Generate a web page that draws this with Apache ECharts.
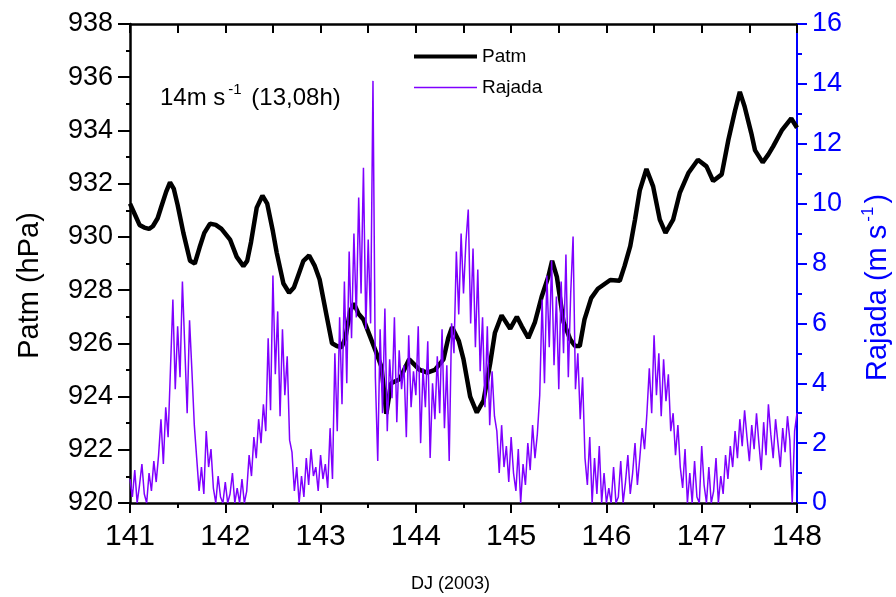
<!DOCTYPE html>
<html>
<head>
<meta charset="utf-8">
<script src="https://cdn.jsdelivr.net/npm/echarts@6/dist/echarts.min.js"></script>
<style>
  html, body { margin: 0; padding: 0; background: #fff; }
  #chart { width: 896px; height: 597px; }
</style>
</head>
<body>
<div id="chart"></div>
<script>
// ---- data ----
// Patm (hPa), black thick line
const patmDays = [
  141.00, 141.05, 141.10, 141.15, 141.20, 141.24, 141.29, 141.33, 141.38, 141.42,
  141.46, 141.50, 141.56, 141.63, 141.68, 141.73, 141.78, 141.84, 141.90, 141.96,
  142.05, 142.12, 142.19, 142.23, 142.27, 142.33, 142.39, 142.44, 142.50, 142.54,
  142.61, 142.67, 142.72, 142.77, 142.82, 142.88, 142.94, 142.99, 143.06, 143.12,
  143.17, 143.22, 143.26, 143.31, 143.35, 143.40, 143.45, 143.52, 143.59, 143.64,
  143.69, 143.74, 143.83, 143.93, 144.04, 144.12, 144.20, 144.29, 144.34, 144.38,
  144.45, 144.50, 144.57, 144.64, 144.71, 144.78, 144.83, 144.90, 144.99, 145.06,
  145.11, 145.18, 145.25, 145.32, 145.39, 145.43, 145.48, 145.55, 145.62, 145.67,
  145.72, 145.77, 145.84, 145.91, 146.04, 146.14, 146.19, 146.25, 146.30, 146.35,
  146.42, 146.49, 146.56, 146.62, 146.70, 146.77, 146.86, 146.96, 147.05, 147.12,
  147.21, 147.28, 147.35, 147.40, 147.45, 147.52, 147.56, 147.64, 147.70, 147.75,
  147.84, 147.94, 148.00
];
const patmValues = [
  931.25, 930.85, 930.45, 930.35, 930.3, 930.4, 930.7, 931.15, 931.7, 932.05,
  931.8, 931.2, 930.15, 929.1, 929.0, 929.6, 930.15, 930.5, 930.45, 930.3,
  929.9, 929.25, 928.9, 929.1, 929.8, 931.1, 931.55, 931.25, 930.2, 929.4,
  928.25, 927.9, 928.1, 928.6, 929.1, 929.3, 928.9, 928.4, 927.1, 926.0,
  925.9, 925.85, 926.2, 927.2, 927.5, 927.1, 926.9, 926.25, 925.6, 925.1,
  923.35, 924.5, 924.65, 925.4, 925.0, 924.9, 925.0, 925.4, 926.2, 926.6,
  926.1, 925.4, 924.0, 923.4, 923.85, 925.25, 926.4, 927.05, 926.55, 927.0,
  926.65, 926.2, 926.8, 927.75, 928.5, 929.1, 928.5, 926.8, 926.15, 925.9,
  925.9, 926.9, 927.7, 928.05, 928.38, 928.35, 928.9, 929.65, 930.65, 931.75,
  932.55, 931.9, 930.65, 930.15, 930.65, 931.65, 932.4, 932.9, 932.65, 932.1,
  932.35, 933.65, 934.75, 935.45, 934.9, 933.9, 933.25, 932.8, 933.1, 933.4,
  934.0, 934.45, 934.1
];

// Rajada (m s-1), purple thin line, one reading every 0.025 day from DJ 141
const rajadaStart = 141;
const rajadaStep = 0.025;
const rajadaValues = [
  // 141
  0.8, 0.2, 1.1, 0.0, 0.6, 1.3, 0.3, 0.0, 1.0, 0.4, 1.4, 0.7,
  1.6, 2.8, 1.3, 3.2, 2.2,
  4.5, 6.8, 3.8, 5.9, 4.2, 7.4, 5.2, 3.0, 6.1, 4.4, 2.6,
  1.5, 0.4, 1.2, 0.3, 2.4, 1.2, 1.8, 0.5, 0.0, 0.9, 0.2, 0.0,
  // 142
  0.7, 0.0, 0.3, 1.0, 0.0, 0.5, 0.0, 0.8, 0.0, 0.4,
  1.6, 0.9, 2.2, 1.5, 2.8, 2.0, 3.3, 2.4,
  5.5, 3.1, 7.6, 4.3, 6.4, 2.9, 5.8, 3.6, 4.9, 2.1,
  1.7, 0.4, 1.2, 0.0, 0.9, 0.2, 1.5, 0.6, 1.8, 0.9, 1.2, 0.4,
  // 143
  1.6, 0.8, 1.3, 0.5,
  2.5, 0.8, 5.0, 2.4, 6.2, 3.3, 7.4, 4.0, 8.4,
  5.5, 9.0, 6.2, 10.2, 7.0, 11.2, 5.8, 8.8, 6.0, 14.1, 4.2, 1.4,
  5.8, 3.0, 6.5, 2.4, 4.8, 3.5, 6.2, 2.7, 5.1, 3.8, 4.6, 2.2, 5.6, 3.2, 4.4,
  // 144
  3.6, 5.9, 2.0, 4.5, 3.2, 5.4, 1.5, 4.0, 2.8, 4.9,
  3.0, 5.8, 2.5, 4.6, 1.4, 6.0,
  5.0, 8.4, 6.3, 9.0, 7.0, 8.7, 9.8, 6.0, 8.5, 5.2, 7.8, 4.4, 6.2,
  3.2, 5.9, 2.6, 4.4, 2.9, 2.4, 1.0, 2.6, 1.2, 1.9, 0.7,
  // 145
  2.2, 1.0, 0.4, 1.8, 0.0, 1.3, 0.6, 2.0, 1.1, 2.6, 1.5, 2.3,
  3.6, 6.8, 4.0, 7.6, 5.2, 8.1, 4.6, 6.9, 3.8, 7.4, 5.0, 8.3, 4.2, 7.0, 8.9, 3.8, 5.0,
  2.8, 4.2, 1.5, 0.6, 2.2, 0.0, 1.5, 0.3, 1.9, 0.0, 1.0,
  // 146
  0.0, 0.5, 0.0, 1.2, 0.0, 0.2, 1.4, 0.0, 0.7, 1.6, 0.3, 1.0, 2.0, 0.6,
  1.5, 2.5, 1.8, 3.0,
  4.5, 3.0, 5.6, 3.6, 5.0, 2.9, 4.8, 3.4, 4.3, 2.4,
  3.0, 1.6, 2.6, 1.2,
  0.5, 1.8, 0.0, 1.0, 0.0, 1.4, 0.2, 0.0,
  // 147
  1.9, 0.6, 0.0, 1.2, 0.0, 0.4, 1.5, 0.0, 0.9, 0.3, 1.6,
  0.8, 1.9, 1.2, 2.4,
  1.5, 2.8, 1.9, 3.1, 2.2, 1.4, 2.6, 1.8, 3.0, 2.0, 1.1, 2.7, 1.6, 3.3, 2.3,
  1.5, 2.8, 2.0, 1.2, 2.5, 1.7, 2.9, 2.1, 0.0, 2.4,
  // 148
  3.0
];

// axis ranges / ticks
const dayMin = 141, dayMax = 148;
const patmMin = 920, patmMax = 938;
const rajadaMin = 0, rajadaMax = 16;

// ---- build series data ----
const patmData = patmDays.map((d, i) => [d, patmValues[i]]);
const rajadaData = rajadaValues.map((v, i) => [+(rajadaStart + i * rajadaStep).toFixed(3), v]);

const FONT = "'Liberation Sans', Arial, sans-serif";
const BLUE = "#0000ff";
const PURPLE = "#7f00ff";

let chart = echarts.init(document.getElementById("chart"), null, { renderer: "canvas" });

chart.setOption({
  animation: false,
  backgroundColor: "#fff",
  textStyle: { fontFamily: FONT },
  grid: { left: 130, right: 99, top: 24, bottom: 94, outerBoundsMode: "none", containLabel: false },
  legend: {
    orient: "vertical",
    left: 414,
    top: 47,
    padding: 0,
    itemWidth: 63,
    itemHeight: 14,
    itemGap: 12,
    textStyle: { fontFamily: FONT, fontSize: 19, color: "#000" },
    data: [
      { name: "Patm", icon: "path://M0,0 H63 V4 H0 Z", symbolKeepAspect: true },
      { name: "Rajada", icon: "path://M0,0 H63 V1.6 H0 Z", symbolKeepAspect: true }
    ]
  },
  graphic: [{
    type: "text",
    left: 160,
    top: 82,
    style: {
      text: "{a|14m s}{s|-1}{a| (13,08h)}",
      rich: {
        a: { fontFamily: FONT, fontSize: 24, fill: "#000", verticalAlign: "bottom" },
        s: { fontFamily: FONT, fontSize: 15, fill: "#000", verticalAlign: "top", padding: [0, 3, 13, 3] }
      }
    }
  }],
  xAxis: [{
    type: "value",
    position: "bottom",
    min: dayMin, max: dayMax, interval: 1,
    name: "DJ (2003)",
    nameLocation: "middle",
    nameGap: 72,
    nameTextStyle: { fontFamily: FONT, fontSize: 18, color: "#000", padding: [0, 26, 0, 0] },
    axisLine: { show: true, onZero: false, lineStyle: { color: "#000", width: 2.5 } },
    axisTick: { show: true, length: 10, lineStyle: { color: "#000", width: 2 } },
    minorTick: { show: true, splitNumber: 2, length: 5, lineStyle: { color: "#000", width: 2 } },
    axisLabel: { fontFamily: FONT, fontSize: 30, color: "#000", margin: 19 },
    splitLine: { show: false }
  }, {
    type: "value",
    position: "top",
    min: dayMin, max: dayMax, interval: 0.5,
    axisLine: { show: true, onZero: false, lineStyle: { color: "#000", width: 2.5 } },
    axisTick: { show: true, inside: true, length: 9, lineStyle: { color: "#000", width: 2 } },
    axisLabel: { show: false },
    splitLine: { show: false }
  }],
  yAxis: [{
    type: "value",
    position: "left",
    min: patmMin, max: patmMax, interval: 2,
    name: "Patm (hPa)",
    nameLocation: "middle",
    nameGap: 86,
    nameRotate: 90,
    nameTextStyle: { fontFamily: FONT, fontSize: 29, color: "#000", padding: [0, 44, 0, 0] },
    axisLine: { show: true, onZero: false, lineStyle: { color: "#000", width: 2.5 } },
    axisTick: { show: true, length: 12, lineStyle: { color: "#000", width: 2 } },
    minorTick: { show: true, splitNumber: 2, length: 4, lineStyle: { color: "#000", width: 2 } },
    axisLabel: { fontFamily: FONT, fontSize: 27, color: "#000", margin: 17 },
    splitLine: { show: false }
  }, {
    type: "value",
    position: "right",
    min: rajadaMin, max: rajadaMax, interval: 2,
    name: "{a|Rajada (m s}{s|-1}{a|)}",
    nameLocation: "middle",
    nameGap: 63,
    nameRotate: 90,
    nameTextStyle: {
      padding: [0, 48, 0, 0],
      rich: {
        a: { fontFamily: FONT, fontSize: 29, color: BLUE, verticalAlign: "bottom" },
        s: { fontFamily: FONT, fontSize: 17, color: BLUE, verticalAlign: "top", padding: [0, 3, 15, 3] }
      }
    },
    axisLine: { show: true, onZero: false, lineStyle: { color: BLUE, width: 2 } },
    axisTick: { show: true, length: 10, lineStyle: { color: BLUE, width: 2 } },
    minorTick: { show: true, splitNumber: 2, length: 5, lineStyle: { color: BLUE, width: 2 } },
    axisLabel: { fontFamily: FONT, fontSize: 27, color: BLUE, margin: 15 },
    splitLine: { show: false }
  }],
  series: [{
    name: "Patm",
    type: "line",
    xAxisIndex: 0,
    yAxisIndex: 0,
    data: patmData,
    symbol: "none",
    color: "#000",
    lineStyle: { color: "#000", width: 4.5 },
    z: 2
  }, {
    name: "Rajada",
    type: "line",
    xAxisIndex: 0,
    yAxisIndex: 1,
    data: rajadaData,
    symbol: "none",
    color: PURPLE,
    lineStyle: { color: PURPLE, width: 1.5 },
    z: 3
  }]
});
</script>
</body>
</html>
